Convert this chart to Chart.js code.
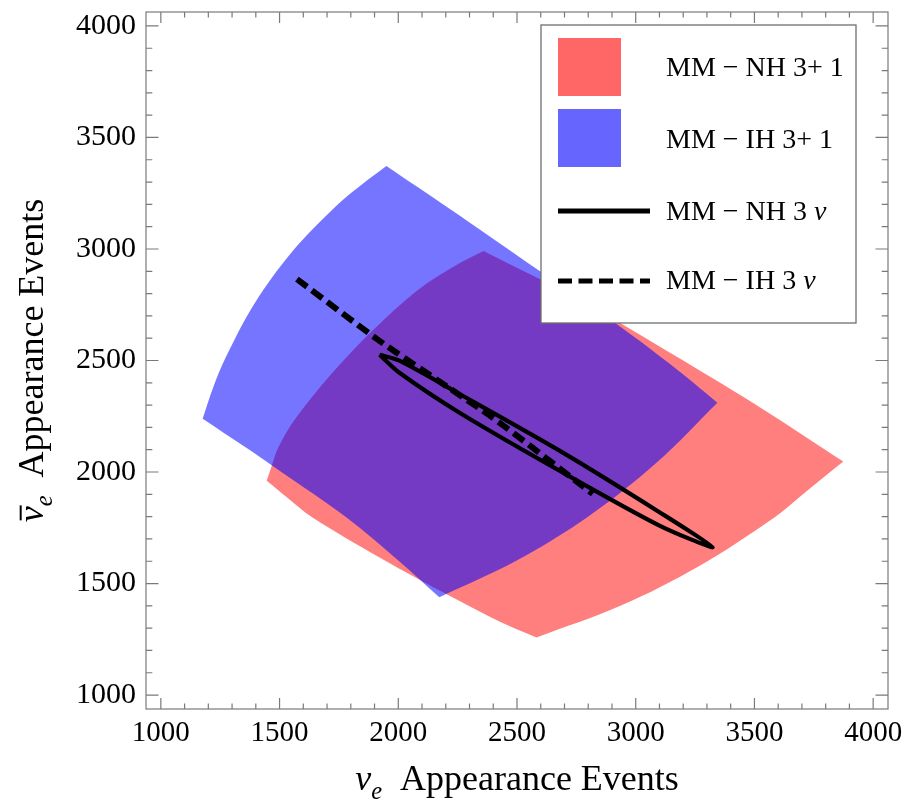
<!DOCTYPE html>
<html>
<head>
<meta charset="utf-8">
<title>Appearance events</title>
<script src="https://cdn.jsdelivr.net/npm/chart.js@4.4.1/dist/chart.umd.min.js"></script>
<style>
  html, body { margin: 0; padding: 0; background: #fff; }
  canvas { display: block; }
</style>
</head>
<body>
<canvas id="eventsChart" width="911" height="803"></canvas>
<script>
const tickValues = [1000, 1500, 2000, 2500, 3000, 3500, 4000];
const seriesLabels = ['MM − NH 3+ 1', 'MM − IH 3+ 1', 'MM − NH 3 ν', 'MM − IH 3 ν'];

// 3+1 regions, outline (clockwise from the top corner);
// the side corners are listed twice so the smoothed outline keeps them sharp
const nh31X = [2359, 2751, 3130, 3506, 3874, 3874, 3689, 3581, 3268, 2935, 2582, 2582, 2426, 2228, 1921, 1639, 1533, 1446, 1446, 1465, 1493, 1570, 1781, 2061, 2234, 2359];
const nh31Y = [2991, 2779, 2544, 2302, 2047, 2047, 1887, 1794, 1579, 1400, 1258, 1258, 1330, 1438, 1617, 1796, 1885, 1961, 1961, 2021, 2107, 2245, 2514, 2798, 2922, 2991];
const ih31X = [1950, 2216, 2552, 2889, 3142, 3344, 3344, 3086, 2805, 2501, 2173, 2173, 2005, 1782, 1500, 1352, 1176, 1176, 1220, 1272, 1397, 1552, 1736, 1840, 1950];
const ih31Y = [3372, 3180, 2933, 2687, 2486, 2311, 2311, 2040, 1804, 1604, 1438, 1438, 1599, 1796, 2006, 2114, 2239, 2239, 2378, 2511, 2760, 2987, 3191, 3284, 3372];

// 3nu contours
const nh3nuX = [1921, 2005, 2258, 2679, 3100, 3324, 3100, 2679, 2258, 2005, 1921];
const nh3nuY = [2526, 2499, 2350, 2096, 1820, 1663, 1760, 2006, 2266, 2445, 2526];
const ih3nuX = [1573, 1921, 2397, 2819];
const ih3nuY = [2865, 2588, 2244, 1902];

const serif = '"Liberation Serif", "Times New Roman", serif';
const pts = (xs, ys) => xs.map((x, i) => ({ x: x, y: ys[i] }));

// split a label so that greek nu is set in italics
function labelParts(txt) {
  return txt.split(/(ν)/).filter(s => s.length).map(s => [s, s === 'ν' ? 'i' : 'n']);
}

function richWidth(ctx, parts, size) {
  let w = 0;
  for (const [t, s] of parts) {
    ctx.font = (s === 'n' ? '' : 'italic ') + (s === 's' ? size * 0.68 : size) + 'px ' + serif;
    w += ctx.measureText(t).width;
  }
  return w;
}

function drawRich(ctx, parts, x, y, size) {
  let cx = x;
  for (const [t, s] of parts) {
    ctx.font = (s === 'n' ? '' : 'italic ') + (s === 's' ? size * 0.68 : size) + 'px ' + serif;
    ctx.fillText(t, cx, y + (s === 's' ? size * 0.26 : 0));
    cx += ctx.measureText(t).width;
  }
}

const titleParts = [['ν', 'i'], ['e', 's'], ['  Appearance Events', 'n']];

const framePlugin = {
  id: 'framePlugin',
  afterDraw(chart) {
    const { ctx, chartArea: a, scales } = chart;
    const xs = scales.x, ys = scales.y;
    ctx.save();
    ctx.strokeStyle = '#7a7a7a';
    ctx.lineWidth = 1.2;
    ctx.strokeRect(a.left, a.top, a.width, a.height);
    ctx.beginPath();
    for (let i = 0; i < tickValues.length; i++) {
      for (let k = 0; k < 5; k++) {
        if (i === tickValues.length - 1 && k > 0) break;
        const v = tickValues[i] + k * 100;
        const major = k === 0;
        const px = xs.getPixelForValue(v);
        const lx = major ? 11 : 5.5;
        ctx.moveTo(px, a.bottom); ctx.lineTo(px, a.bottom - lx);
        ctx.moveTo(px, a.top); ctx.lineTo(px, a.top + lx);
        const py = ys.getPixelForValue(v);
        const ly = major ? 12.5 : 6.3;
        ctx.moveTo(a.left, py); ctx.lineTo(a.left + ly, py);
        ctx.moveTo(a.right, py); ctx.lineTo(a.right - ly, py);
      }
    }
    ctx.stroke();

    // axis titles
    ctx.fillStyle = '#000';
    ctx.textBaseline = 'alphabetic';
    ctx.textAlign = 'left';
    const ts = 36;
    const tw = richWidth(ctx, titleParts, ts);
    drawRich(ctx, titleParts, (a.left + a.right) / 2 - tw / 2, 790, ts);

    ctx.save();
    ctx.translate(43, (a.top + a.bottom) / 2);
    ctx.rotate(-Math.PI / 2);
    drawRich(ctx, titleParts, -tw / 2, 0, ts);
    ctx.font = 'italic ' + ts + 'px ' + serif;
    const nuW = ctx.measureText('ν').width;
    ctx.strokeStyle = '#000';
    ctx.lineWidth = 2;
    ctx.beginPath();
    ctx.moveTo(-tw / 2 + 2, -ts * 0.62);
    ctx.lineTo(-tw / 2 + nuW + 1, -ts * 0.62);
    ctx.stroke();
    ctx.restore();

    // legend box
    ctx.fillStyle = '#fff';
    ctx.fillRect(541, 25, 315, 298);
    ctx.strokeStyle = '#6f6f6f';
    ctx.lineWidth = 1.3;
    ctx.strokeRect(541, 25, 315, 298);
    ctx.fillStyle = 'rgb(255,102,102)';
    ctx.fillRect(558, 38, 63, 58);
    ctx.fillStyle = 'rgb(102,102,255)';
    ctx.fillRect(558, 109, 63, 58);
    ctx.strokeStyle = '#000';
    ctx.lineWidth = 5;
    ctx.beginPath();
    ctx.moveTo(558, 211); ctx.lineTo(650, 211);
    ctx.stroke();
    ctx.setLineDash([14, 6.5]);
    ctx.beginPath();
    ctx.moveTo(558, 281); ctx.lineTo(650, 281);
    ctx.stroke();
    ctx.setLineDash([]);
    ctx.fillStyle = '#000';
    const rows = [76, 148, 220, 289];
    seriesLabels.forEach((lab, i) => drawRich(ctx, labelParts(lab), 666, rows[i], 28));
    ctx.restore();
  }
};

new Chart(document.getElementById('eventsChart').getContext('2d'), {
  type: 'scatter',
  data: {
    datasets: [
      {
        label: seriesLabels[2],
        data: pts(nh3nuX, nh3nuY),
        showLine: true,
        borderColor: '#000',
        borderWidth: 4.2,
        pointRadius: 0,
        tension: 0.25,
        fill: false,
        order: 0
      },
      {
        label: seriesLabels[3],
        data: pts(ih3nuX, ih3nuY),
        showLine: true,
        borderColor: '#000',
        borderWidth: 6,
        borderDash: [13, 6],
        borderCapStyle: 'butt',
        pointRadius: 0,
        tension: 0.2,
        fill: false,
        order: 0
      },
      {
        label: seriesLabels[1],
        data: pts(ih31X, ih31Y),
        showLine: true,
        backgroundColor: 'rgba(0,0,255,0.54)',
        borderWidth: 0,
        pointRadius: 0,
        tension: 0.35,
        fill: 'shape',
        order: 1
      },
      {
        label: seriesLabels[0],
        data: pts(nh31X, nh31Y),
        showLine: true,
        backgroundColor: 'rgba(255,0,0,0.5)',
        borderWidth: 0,
        pointRadius: 0,
        tension: 0.35,
        fill: 'shape',
        order: 2
      }
    ]
  },
  options: {
    responsive: false,
    animation: false,
    devicePixelRatio: 1,
    layout: { padding: { left: 0, right: 23, top: 12, bottom: 0 } },
    plugins: {
      legend: { display: false },
      tooltip: { enabled: false }
    },
    scales: {
      x: {
        type: 'linear',
        min: 937.5,
        max: 4062.5,
        grid: { display: false, drawTicks: false },
        border: { display: false },
        afterBuildTicks: s => { s.ticks = tickValues.map(v => ({ value: v })); },
        afterFit: s => { s.height = 94; s.paddingLeft = 0; s.paddingRight = 0; },
        ticks: {
          color: '#000',
          font: { family: serif, size: 29 },
          padding: 7,
          maxRotation: 0,
          autoSkip: false,
          callback: v => String(v)
        }
      },
      y: {
        type: 'linear',
        min: 937.5,
        max: 4062.5,
        grid: { display: false, drawTicks: false },
        border: { display: false },
        afterBuildTicks: s => { s.ticks = tickValues.map(v => ({ value: v })); },
        afterFit: s => { s.width = 146; s.paddingTop = 0; s.paddingBottom = 0; },
        ticks: {
          color: '#000',
          font: { family: serif, size: 30 },
          padding: 10,
          autoSkip: false,
          callback: v => String(v)
        }
      }
    }
  },
  plugins: [framePlugin]
});
</script>
</body>
</html>
